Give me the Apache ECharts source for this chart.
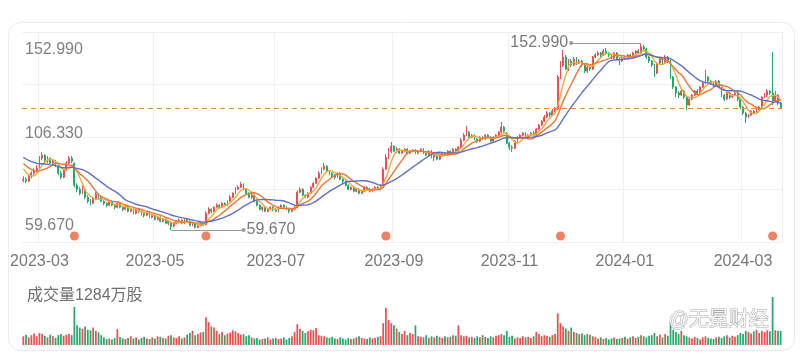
<!DOCTYPE html>
<html><head><meta charset="utf-8">
<script src="https://cdn.jsdelivr.net/npm/echarts@6/dist/echarts.min.js"></script>
<style>html,body{margin:0;padding:0;background:#fff;}#c{width:804px;height:362px;}</style>
</head><body><div id="c"></div>
<script>
// ---------- data ----------
const startDate = '2023-02-21';
const endDate = '2024-03-21';
function buildWeekdays(s, e) {
  const out = []; let d = new Date(s + 'T00:00:00Z'); const end = new Date(e + 'T00:00:00Z');
  while (d <= end) { const w = d.getUTCDay(); if (w !== 0 && w !== 6) out.push(d.toISOString().slice(0, 10)); d = new Date(d.getTime() + 86400000); }
  return out;
}
const dates = buildWeekdays(startDate, endDate);

// [open, close, low, high]
const candles = [
[84.5,85,83.5,86.5],[85,84,83,86],[84,86.5,83.5,87.5],[86.5,88,85.5,89],[88,89.5,87,90.5],
[89.5,90.5,88.5,92],[91,95.5,90.5,96.5],[95.5,97,94.5,98.5],[97,94.5,93.5,97.5],[94.5,95.5,93,96.5],
[95.5,93,92.5,96],[93,94,92,95],[94,92,91,94.5],[91.5,88,87,92],[88,86,85,89],
[86,89.5,85.5,90],[89.5,93,89,94],[93,95.5,92.5,96.5],[95.5,94,93,96.5],[93,82,81,93.5],
[82,80,78.5,83],[80,78,77,81],[78,81,77.5,82],[80,76,75,80.5],[76,74,73,77],
[74,73,72,75],[73,75,72.5,76],[75,77.5,74.5,78.5],[77.5,76,75,78],[76,74,73.5,76.5],
[74,73,72,74.5],[73,72,71,73.5],[72,74,71.5,74.5],[74,72,71.5,74.5],[72,71,70,72.5],
[71,73,70.5,73.5],[73,71,70.5,73.5],[71,70,69,71.5],[70,71.5,69.5,72],[71.5,69,68.5,72],
[69,70,68.5,70.5],[70,68,67.5,70.5],[68,70,67.5,70.5],[70,69,68,70.5],[69,68,67,69.5],
[68,67,66,68.5],[67,68.5,66.5,69],[68.5,66,65.5,69],[66,67,65.5,67.5],[67,65,64.5,67.5],
[65,66,64.5,66.5],[66,64,63.5,66.5],[64,65,63.5,65.5],[65,63,62.5,65.5],[63,64,62,64.5],
[63.5,61.5,59.67,64],[61.5,63,61,63.5],[63,64,62.5,64.5],[64,64.5,63.5,65.5],[64.5,63,62.5,65],
[63,65,62.5,65.5],[65,64,63.5,65.5],[64,62,61.5,64.5],[62,63,61.5,63.5],[63,61,60.5,63.5],
[61,62,60.5,62.5],[62,63,61.5,63.5],[63,62,61.5,63.5],[62.5,68,62,69],[68,70,67.5,71],
[70,69,68,70.5],[69,71,68.5,71.5],[71,72,70.5,73],[72,71,70,72.5],[71,73,70.5,73.5],
[73,72,71.5,73.5],[72,74,71.5,74.5],[74,76,73.5,77],[76,78,75.5,78.5],[78,80,77.5,81],
[80,81,79.5,82],[81,82.5,80.5,83.6],[82.5,80,79.5,83],[80,78,77,80.5],[78,76,75.5,78.5],
[76,77,75,78],[77,74,73.5,77.5],[74,72,71.5,74.5],[72,70,69.5,72.5],[70,71,69,71.5],
[71,69,68.5,71.5],[69,70,68.5,70.5],[70,71,69.5,71.5],[71,70,69,71.5],[70,69,68.5,70.5],
[69,71,68.5,71.5],[71,72,70.5,72.5],[72,71,70.5,72.5],[71,70,69.5,71.5],[70,69,68,70.5],
[69,70,68.5,70.5],[70,71,69.5,72],[71,78.5,70.5,79.5],[78.5,80,78,81],[80,77,76.5,80.5],
[77,76,75.5,77.5],[76,78,75.5,78.5],[78,81,77.5,81.5],[81,83,80.5,83.5],[83,85.5,82.5,86],
[85.5,88,85,89],[88,90,87.5,91],[90,91.5,89.5,93],[91.5,89,88.5,92],[89,88,87,89.5],
[88,87,86,88.5],[87,86,85,87.5],[86,88,85.5,88.5],[88,85,84.5,88.5],[85,84,83,85.5],
[84,82,81.5,84.5],[82,80,79.5,82.5],[80,81,79.5,81.5],[81,79,78.5,81.5],[79,80,78.5,80.5],
[80,78,77.5,80.5],[78,79,77.5,79.5],[79,81,78.5,81.5],[81,80,79.5,81.5],[80,79,78.5,80.5],
[79,80,78.5,80.5],[80,81,79.5,81.5],[81,80,79.5,81.5],[80,82,79.5,82.5],[82,90,81.5,91],
[90,96,89.5,97.5],[96,99,95,100.5],[99,101.5,98,103.6],[101.5,99,98.5,102],[99,100,98,101],
[100,98,97.5,100.5],[98,99,97.5,99.5],[99,100,98.5,100.5],[100,98,97.5,100.5],[98,99,97.5,99.5],
[99,99.5,98.5,100],[99.5,98,97.5,100],[98,99,97.5,99.5],[99,100,98.5,100.5],[100,98,97.5,100.5],
[98,97,96.5,98.5],[97,99,96.5,99.5],[99,96,95.5,99.5],[96,97,94,97.5],[97,95,94.5,97.5],
[95,97,94.5,97.5],[97,98,96.5,98.5],[98,97,96.5,98.5],[97,99,96.5,99.5],[99,98,97.5,99.5],
[98,100,97.5,100.5],[100,99,98.5,100.5],[99,101,98.5,101.5],[101,104.5,100.5,105.5],[104.5,107,104,108],
[107,108.5,106.5,111.6],[108.5,106,105.5,109],[106,107,105.5,107.5],[107,105,104.5,107.5],[105,104,103,105.5],
[104,106,103.5,106.5],[106,105,104.5,106.5],[105,107,104.5,107.5],[107,106,105.5,107.5],[106,104,103.5,106.5],
[104,106,103.5,106.5],[106,107,105.5,107.5],[107,108.5,106.5,109],[108.5,111,108,113.6],[111,109,108.5,111.5],
[108,103,102.5,108.5],[103,101,99.5,103.5],[101,100.5,98.6,102],[100.5,104,100,104.5],[104,106,103.5,106.5],
[106,107,105.5,107.5],[107,108,106.5,108.5],[108,106,105.5,108.5],[106,107,105.5,107.5],[107,108,106.5,108.5],
[108,107,106.5,109],[107,110,106.5,110.5],[110,112,109.5,112.5],[112,114,111.5,114.5],[114,116,113.5,117],
[116,118,115.5,119],[118,117,116,118.5],[117,119,116.5,120],[119,120,118.5,121],[120,136,119.5,137],
[136,142,135,144],[142,146,141,149.5],[146,140,139.5,147],[140,144,139,145],[144,142,141,145],
[142,145,141.5,146],[145,143,142,146],[143,144,142.5,145],[144,142,141,144.5],[142,139,138,142.5],
[139,141,138,142],[141,140,139,141.5],[140,146,139.5,146.5],[146,147,145.5,148],[147,148,146.5,149],
[148,147,146,148.5],[147,149,146.5,150],[149,148,147,150.5],[148,147,146,148.5],[147,145.5,145,147.5],
[145.5,148,145,148.5],[148,145,144.5,148.5],[145,144,142,145.5],[144,146,143.5,146.5],[146,145,144.5,146.5],
[145,147,144.5,147.5],[147,146,145.5,147.5],[146,148,145.5,148.5],[148,149,147.5,149.5],[149,148,147.5,150],
[148,151,147.5,152.99],[151,150,149,152],[150,146,145,150.5],[146,144,143,146.5],[144,142,141,144.5],
[142,138,136,142.5],[138,143,137.5,143.5],[143,145,142.5,146],[145,143,142,145.5],[143,146,142.5,147],
[146,144,143,146.5],[144,136,135,144.5],[136,131,130,136.5],[131,128,126,131.5],[128,127,125.5,129],
[127,129,126.5,130],[129,126,125,129.5],[126,122,119.6,126.5],[122,125,121.5,125.5],[125,127,124.5,127.5],
[127,129,126.5,129.5],[129,128,127,130],[128,131,127.5,131.5],[131,133,130.5,134],[133,136,132.5,139.5],
[136,134,133,136.5],[134,133,132,134.5],[133,132,131,133.5],[132,134,131.5,134.5],[134,131,130.5,134.5],
[131,127,126,131.5],[127,125,124,127.5],[125,128,124.5,128.5],[128,126,125,128.5],[126,127,125.5,127.5],
[127,128,126.5,128.5],[128,125,124,128.5],[125,121,120,125.5],[121,118,117,121.5],[118,116,113,118.5],
[116,117,115.5,117.5],[117,119,116.5,119.5],[119,118,117.5,119.5],[118,120,117.5,120.5],[120,121,119.5,121.5],
[121,126,120.5,126.5],[126,127,125.5,128],[127,129,126,130],[129,128,127,129.5],[128,124,122,148.5],
[124,127,123.5,129],[127,123,122,127.5],[123,120.6,120,123.5]
];

// volume, 万股
const volumes = [
800,950,700,900,1050,800,1100,1000,850,700,
950,800,650,900,1000,850,950,1000,900,
3500,
1800,1600,1500,1700,1400,1350,1600,1300,1150,
900,700,550,600,500,650,1450,700,
600,550,650,800,600,700,500,650,750,600,550,700,600,800,
750,650,600,850,900,700,650,800,600,700,
950,1100,1300,900,1000,1150,1200,
2550,
2100,1700,1600,
1300,1000,1200,900,1050,1150,1350,1250,1100,950,1000,800,900,
700,600,650,500,550,600,700,500,600,650,550,600,700,500,650,
800,1200,1900,1500,1300,1100,1250,1400,1350,1550,
900,850,800,700,650,750,600,550,700,600,500,650,550,600,700,800,650,600,550,700,600,650,750,800,
2000,3400,2300,2000,1800,
1500,1200,1000,1300,900,1100,1000,1800,
800,750,700,900,650,800,700,850,750,650,800,700,750,900,850,
1800,
900,800,850,700,750,650,800,700,900,750,650,800,700,
850,900,1000,900,1300,
750,850,600,700,650,800,700,750,650,800,
1200,1000,800,900,850,750,900,1000,
2900,
2000,1700,1500,1300,1600,1200,
1100,1000,1050,900,1000,950,
800,750,600,700,550,650,500,600,700,550,600,650,750,600,700,800,650,750,900,800,700,850,
900,1100,800,950,700,1000,850,
2100,
1400,1200,1000,1300,900,
800,700,600,750,650,500,700,800,650,600,550,700,750,650,800,900,700,850,750,900,
1100,1000,1300,1200,1050,1250,1400,1100,1300,1200,1350,1250,
4400,
1350,1300,1284
];

// closes before the visible window (only used to seed the moving averages)
const maWarmupCloses = [99,100,101,99,98,100,99,98,97,99,98,96,97,95,96,94,93,92,91,90];
const maPeriods = [5, 10, 20];
const maColors = ['#f3a93c', '#e9763d', '#6170c2'];
const eventIdx = [19, 68, 135, 200, 279];

// ---------- derived ----------
const UP = '#ef4e4e', DOWN = '#22a96b';
const closes = candles.map(c => c[1]);
const allCloses = maWarmupCloses.concat(closes);
const off = maWarmupCloses.length;
function ma(n) {
  return closes.map((_, i) => {
    const j = i + off; let s = 0;
    for (let k = j - n + 1; k <= j; k++) s += allCloses[k];
    return +(s / n).toFixed(3);
  });
}
let maxI = 0, minI = 0;
candles.forEach((c, i) => { if (c[3] > candles[maxI][3]) maxI = i; if (c[2] < candles[minI][2]) minI = i; });
const maxHigh = candles[maxI][3], minLow = candles[minI][2];
const midVal = +((maxHigh + minLow) / 2).toFixed(3);
const lastClose = closes[closes.length - 1];
const pxPerUnit = (230 - 43) / (maxHigh - minLow);
const yMax = maxHigh + (43 - 32) / pxPerUnit;
const yMin = minLow - (242 - 230) / pxPerUnit;
const eventY = minLow - (236 - 230) / pxPerUnit;

const isLabelIdx = (i) => i > 0 && dates[i].slice(5, 7) !== dates[i - 1].slice(5, 7) && (+dates[i].slice(5, 7)) % 2 === 1;
const FONT = "'Liberation Sans', Arial, 'Noto Sans CJK SC', sans-serif";
const grayLine = { color: '#9a9a9a', width: 1, type: 'solid' };
const markLab = { show: true, position: 'end', color: '#7a7a7a', fontSize: 16, fontFamily: FONT, distance: 3 };

const chart = echarts.init(document.getElementById('c'), null, { renderer: 'canvas' });
chart.setOption({
  animation: false,
  backgroundColor: '#fff',
  textStyle: { fontFamily: FONT },
  title: {
    text: '成交量' + volumes[volumes.length - 1] + '万股', left: 22, top: 283,
    textStyle: { fontSize: 16, color: '#6f6f6f', fontWeight: 'normal', fontFamily: FONT }
  },
  graphic: [
    { type: 'rect', z: -10, silent: true, shape: { x: 8.5, y: 22.5, width: 786, height: 328, r: 12 }, style: { fill: 'none', stroke: '#ebebeb', lineWidth: 1 } },
    { type: 'text', z: 100, silent: true, left: 668, top: 310, style: { text: '@无冕财经', fontSize: 20, fontFamily: FONT, fill: 'rgba(255,255,255,0.85)', stroke: 'rgba(150,150,150,0.8)', lineWidth: 1 } }
  ],
  grid: [
    { left: 22, right: 22, top: 32, height: 210 },
    { left: 22, right: 22, top: 297, height: 48 }
  ],
  xAxis: [
    { type: 'category', gridIndex: 0, data: dates, boundaryGap: true,
      axisLine: { show: false }, axisTick: { show: false },
      axisLabel: { interval: (i) => isLabelIdx(i), formatter: v => v.slice(0, 7), color: '#777', fontSize: 16, margin: 12 },
      splitLine: { show: true, interval: (i) => isLabelIdx(i), lineStyle: { color: '#f0f0f0' } } },
    { type: 'category', gridIndex: 1, data: dates, boundaryGap: true,
      axisLine: { show: false }, axisTick: { show: false }, axisLabel: { show: false }, splitLine: { show: false } }
  ],
  yAxis: [
    { type: 'value', gridIndex: 0, min: yMin, max: yMax, position: 'left',
      axisLine: { show: false }, axisTick: { show: false }, splitLine: { show: false },
      axisLabel: { inside: true, margin: 3, customValues: [minLow, midVal, maxHigh],
        formatter: v => {
          const t = v.toFixed(3);
          if (Math.abs(v - maxHigh) < 1e-6) return '{t|' + t + '}';
          if (Math.abs(v - midVal) < 1e-6) return '{m|' + t + '}';
          return '{b|' + t + '}';
        },
        rich: {
          t: { fontSize: 16, color: '#808080', padding: [14, 0, 0, 0] },
          m: { fontSize: 16, color: '#808080', padding: [0, 0, 5, 0] },
          b: { fontSize: 16, color: '#808080', padding: [0, 0, 8, 0] }
        } } },
    { type: 'value', gridIndex: 0, min: 0, max: 4, interval: 1, position: 'right',
      axisLine: { show: false }, axisTick: { show: false }, axisLabel: { show: false },
      splitLine: { show: true, lineStyle: { color: '#f0f0f0' } } },
    { type: 'value', gridIndex: 1, min: 0, max: 'dataMax', show: false }
  ],
  series: [
    { type: 'candlestick', name: 'K', xAxisIndex: 0, yAxisIndex: 0, data: candles, barMaxWidth: 3,
      itemStyle: { color: UP, color0: DOWN, borderColor: UP, borderColor0: DOWN, borderWidth: 1 },
      markLine: {
        silent: true, animation: false, symbol: ['none', 'none'], z: 5,
        data: [
          { yAxis: lastClose, lineStyle: { color: '#de8d3e', type: [5, 4], width: 1.2 }, label: { show: false } },
          [ { coord: [dates[maxI], maxHigh], symbol: 'none', lineStyle: grayLine, label: markLab },
            { coord: [dates[maxI - 26], maxHigh], symbol: 'circle', symbolSize: 4, label: Object.assign({ formatter: maxHigh.toFixed(3) }, markLab) } ],
          [ { coord: [dates[minI], minLow], symbol: 'none', lineStyle: grayLine, label: markLab },
            { coord: [dates[minI + 27], minLow], symbol: 'circle', symbolSize: 4, label: Object.assign({ formatter: minLow.toFixed(3) }, markLab) } ]
        ]
      } },
    ...maPeriods.map((n, k) => ({
      type: 'line', name: 'MA' + n, xAxisIndex: 0, yAxisIndex: 0, data: ma(n), showSymbol: false, symbol: 'none',
      lineStyle: { width: 1.4, color: maColors[k] }, z: 3
    })),
    { type: 'scatter', name: 'events', xAxisIndex: 0, yAxisIndex: 0, symbolSize: 9,
      itemStyle: { color: '#e8623a' }, data: eventIdx.map(i => [dates[i], eventY]), z: 4 },
    { type: 'bar', name: 'VOL', xAxisIndex: 1, yAxisIndex: 2, barWidth: '65%',
      data: volumes.map((v, i) => ({ value: v, itemStyle: { color: candles[i][1] >= candles[i][0] ? UP : DOWN } })) }
  ]
});
console.log(dates.length, candles.length, volumes.length);
</script></body></html>
